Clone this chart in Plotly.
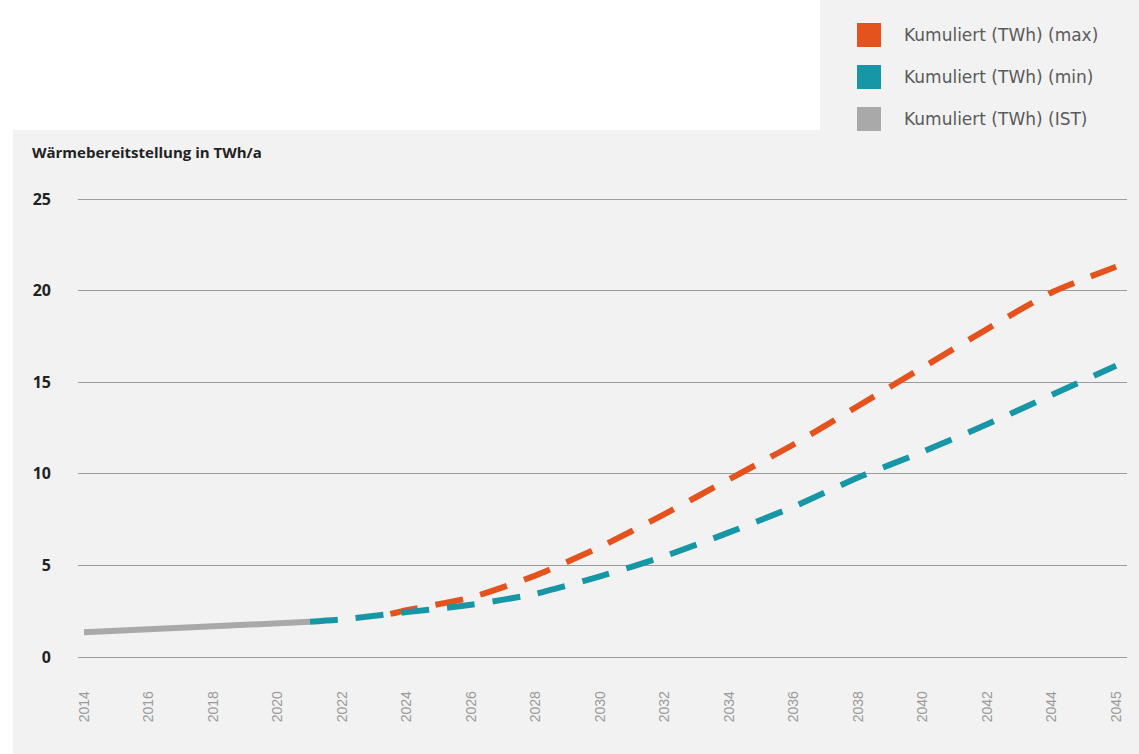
import numpy as np
import plotly.graph_objects as go

# ---- data ----
tick_years = [2014, 2016, 2018, 2020, 2022, 2024, 2026, 2028, 2030, 2032,
              2034, 2036, 2038, 2040, 2042, 2044, 2045]
tick_labels = [str(y) for y in tick_years]

ist_years = [2014, 2016, 2018, 2020, 2021]
ist_values = [1.35, 1.5, 1.65, 1.82, 1.92]

min_years = [2021, 2022, 2024, 2026, 2028, 2030, 2032, 2034, 2036, 2038, 2040, 2042, 2044, 2045]
min_values = [1.92, 2.05, 2.45, 2.85, 3.45, 4.4, 5.5, 6.8, 8.2, 9.8, 11.2, 12.7, 14.3, 15.9]

max_years = [2023.5, 2024, 2026, 2028, 2030, 2032, 2034, 2036, 2038, 2040, 2042, 2044, 2045]
max_values = [2.35, 2.55, 3.25, 4.45, 6.0, 7.8, 9.7, 11.6, 13.7, 15.8, 17.9, 19.9, 21.3]

series_names = ["Kumuliert (TWh) (max)", "Kumuliert (TWh) (min)", "Kumuliert (TWh) (IST)"]
series_colors = ["#e4531d", "#1797a5", "#a9a9a9"]
y_ticks = [0, 5, 10, 15, 20, 25]
y_title = "Wärmebereitstellung in TWh/a"

W, H = 1139, 754

# axis positions: ticks are evenly spaced (the chart's own category-like scale)
tick_pos = list(range(len(tick_years)))
def to_pos(years):
    return np.interp(years, tick_years, tick_pos)

fig = go.Figure()
dash = "28px,18px"
fig.add_trace(go.Scatter(x=to_pos(ist_years), y=ist_values, mode="lines",
                         name=series_names[2], showlegend=False,
                         line=dict(color=series_colors[2], width=6)))
fig.add_trace(go.Scatter(x=to_pos(max_years), y=max_values, mode="lines",
                         name=series_names[0], showlegend=False,
                         line=dict(color=series_colors[0], width=6, dash=dash,
                                   shape="spline", smoothing=0.6)))
fig.add_trace(go.Scatter(x=to_pos(min_years), y=min_values, mode="lines",
                         name=series_names[1], showlegend=False,
                         line=dict(color=series_colors[1], width=6, dash=dash,
                                   shape="spline", smoothing=0.6)))

def px_x(px):
    return px / W
def px_y(py):
    return 1 - py / H

shapes = [
    # chart panel
    dict(type="rect", xref="paper", yref="paper", x0=px_x(13), x1=1, y0=0, y1=px_y(130),
         fillcolor="#f2f2f2", line=dict(width=0), layer="below"),
    # legend panel
    dict(type="rect", xref="paper", yref="paper", x0=px_x(820), x1=1, y0=px_y(130), y1=1,
         fillcolor="#f2f2f2", line=dict(width=0), layer="below"),
]
annotations = [
    dict(text="<b>" + y_title + "</b>", xref="paper", yref="paper",
         x=px_x(30), y=px_y(152), xanchor="left", yanchor="middle", showarrow=False,
         font=dict(family="Open Sans", size=15, color="#222222")),
]
leg_y = [35, 77, 119]
for name, col, yy in zip(series_names, series_colors, leg_y):
    shapes.append(dict(type="rect", xref="paper", yref="paper",
                       x0=px_x(857), x1=px_x(881), y0=px_y(yy + 12), y1=px_y(yy - 12),
                       fillcolor=col, line=dict(width=0)))
    annotations.append(dict(text=name, xref="paper", yref="paper",
                            x=px_x(902), y=px_y(yy), xanchor="left", yanchor="middle",
                            showarrow=False,
                            font=dict(family="DejaVu Sans", size=17, color="#5a5a5a")))

y_lo, y_hi = -1, 26
y_bottom_px = 657 + 18.32 * 1
y_top_px = 199 - 18.32 * 1

fig.update_layout(
    width=W, height=H,
    margin=dict(l=0, r=0, t=0, b=0),
    paper_bgcolor="white",
    plot_bgcolor="rgba(0,0,0,0)",
    shapes=shapes,
    annotations=annotations,
    xaxis=dict(domain=[px_x(78), px_x(1127)], range=[-0.093, 16.17],
               tickmode="array", tickvals=tick_pos, ticktext=tick_labels,
               tickangle=-90, showgrid=False, zeroline=False, showline=False,
               ticks="", ticklabelstandoff=12,
               tickfont=dict(family="Liberation Sans", size=14, color="#9a9a9a"),
               automargin=False, fixedrange=True),
    yaxis=dict(domain=[px_y(y_bottom_px), px_y(y_top_px)], range=[y_lo, y_hi],
               tickmode="array", tickvals=y_ticks, ticktext=[f"<b>{v}</b>" for v in y_ticks],
               showgrid=True, gridcolor="#9c9c9c", gridwidth=1.2,
               zeroline=False, showline=False, ticks="", ticklabelstandoff=26,
               tickfont=dict(family="Open Sans", size=16, color="#222222"),
               automargin=False, fixedrange=True),
)

fig.write_html("out.html")
